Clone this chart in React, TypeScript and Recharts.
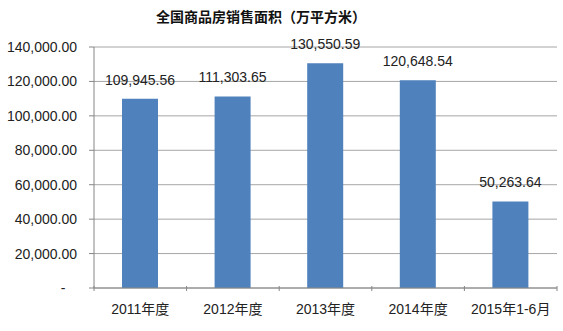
import React from 'react';
import { BarChart, Bar, XAxis, YAxis, CartesianGrid, LabelList } from 'recharts';

const categories = ['2011年度', '2012年度', '2013年度', '2014年度', '2015年1-6月'];
const salesArea = [109945.56, 111303.65, 130550.59, 120648.54, 50263.64];
const yTicks = [0, 20000, 40000, 60000, 80000, 100000, 120000, 140000];

const data = categories.map((name, i) => ({ name, value: salesArea[i] }));

const fmt = (v: number) =>
  v.toLocaleString('en-US', { minimumFractionDigits: 2, maximumFractionDigits: 2 });

const font = '"Liberation Sans", "Noto Sans CJK SC", sans-serif';

const CategoryTick = (props: any) => {
  const { x, y, payload, width, visibleTicksCount, index } = props;
  const band = width / visibleTicksCount;
  return (
    <g>
      <line x1={x - band / 2} x2={x - band / 2} y1={y - 10} y2={y - 5} stroke="#868686" />
      {index === visibleTicksCount - 1 && (
        <line x1={x + band / 2} x2={x + band / 2} y1={y - 10} y2={y - 5} stroke="#868686" />
      )}
      <text x={x} y={y + 18} textAnchor="middle" fontSize={14} fill="#222" fontFamily={font}>
        {payload.value}
      </text>
    </g>
  );
};

export default function App() {
  return (
    <div style={{ position: 'absolute', left: 0, top: 0, width: 563, height: 331, background: '#fff' }}>
      <div
        style={{
          position: 'absolute',
          left: 0,
          top: 6,
          width: 522,
          textAlign: 'center',
          fontSize: 14,
          fontWeight: 'bold',
          fontFamily: '"Noto Sans CJK SC", sans-serif',
          color: '#111',
        }}
      >
        全国商品房销售面积（万平方米）
      </div>
      <BarChart
        width={563}
        height={331}
        data={data}
        margin={{ top: 47, right: 6, left: 0, bottom: 13 }}
        barCategoryGap="30%"
      >
        <CartesianGrid vertical={false} stroke="#a6a6a6" />
        <XAxis
          dataKey="name"
          stroke="#868686"
          tickLine={false}
          height={30}
          tick={<CategoryTick />}
          interval={0}
        />
        <YAxis
          width={94}
          domain={[0, 140000]}
          ticks={yTicks}
          stroke="#868686"
          tickSize={5}
          tickMargin={12}
          interval={0}
          tick={{ fontSize: 14, fill: '#222', fontFamily: font }}
          tickFormatter={(v: number) => (v === 0 ? '-\u00a0\u00a0\u00a0' : fmt(v))}
        />
        <Bar dataKey="value" fill="#4f81bd" barSize={36} isAnimationActive={false}>
          <LabelList
            dataKey="value"
            position="top"
            offset={14}
            formatter={(v: any) => fmt(Number(v))}
            style={{ fontSize: 14, fill: '#222', fontFamily: font }}
          />
        </Bar>
      </BarChart>
    </div>
  );
}
